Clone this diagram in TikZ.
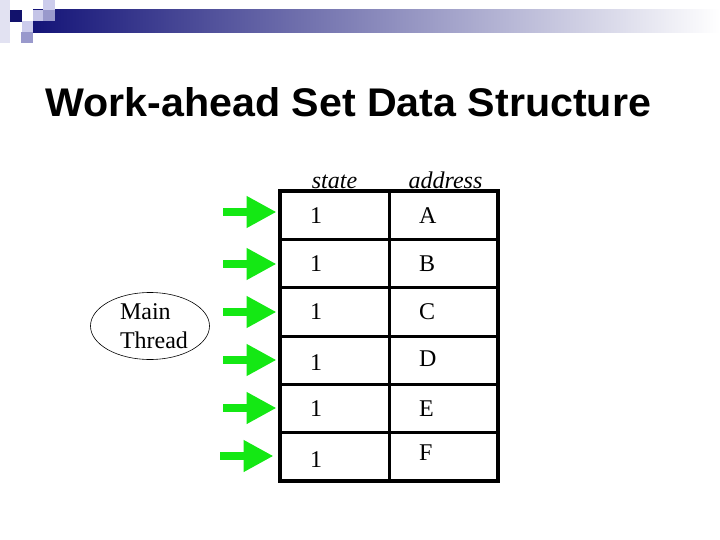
\documentclass[tikz,border=0pt]{standalone}
\usepackage{fontspec}
\setmainfont{Liberation Serif}
\newfontfamily\titlefont{Liberation Sans}
\usepackage{tikz}
\usetikzlibrary{arrows.meta,positioning,shapes.geometric}
\definecolor{navybar}{RGB}{20,20,120}
\definecolor{lilac}{RGB}{204,204,236}
\definecolor{lilacmid}{RGB}{153,153,204}
\definecolor{lilacpale}{RGB}{226,226,242}
\definecolor{arrowgreen}{RGB}{20,232,20}

\begin{document}
\begin{tikzpicture}[x=1pt, y=-1pt,
  font=\fontsize{24}{29}\selectfont,
  cell/.style={draw, line width=3pt, minimum width=109pt, minimum height=48.33pt, inner sep=0pt, outer sep=0pt,
    text width=49pt, inner xsep=30pt, align=left, text height=16pt, text depth=0pt},
  hdr/.style={inner sep=0pt, font=\fontsize{24}{29}\selectfont\itshape},
  thread/.style={draw, ellipse, line width=0.6pt, minimum width=119pt, minimum height=67pt, inner sep=0pt, align=left},
  garr/.style={draw=arrowgreen, line width=8pt, -{Triangle[length=30pt, width=30pt]}, shorten >=3.5pt}]
  \useasboundingbox (0,0) rectangle (720,540);
  % slide header
  \fill[lilacpale] (0,0) rectangle (10,43);
  \shade[left color=navybar, right color=white] (33,10) rectangle (720,33);
  \fill[navybar!90!black] (10,10) rectangle (22,22);
  \fill[lilac] (22,21) rectangle (33,32);
  \fill[lilacmid] (21,32) rectangle (33,43);
  \fill[lilac!85!lilacmid] (33,10) rectangle (43,21);
  \fill[lilac] (43,0) rectangle (55,10);
  \fill[lilacmid] (43,10) rectangle (55,21);
  \node[anchor=base west, inner sep=0pt, font=\titlefont\fontsize{40}{48}\selectfont\bfseries] (title) at (45,117) {\scalebox{1.03}[1]{Work-ahead Set Data Structure}};
  % table
  \node[cell] (s1) at (334.5,215.2) {1};
  \node[cell, below=0pt of s1] (s2) {1};
  \node[cell, below=0pt of s2] (s3) {1};
  \node[cell, below=0pt of s3] (s4) {\raisebox{-2pt}{1}};
  \node[cell, below=0pt of s4] (s5) {1};
  \node[cell, below=0pt of s5] (s6) {\raisebox{-3pt}{1}};
  \node[cell, right=0pt of s1] (a1) {A};
  \node[cell, right=0pt of s2] (a2) {B};
  \node[cell, right=0pt of s3] (a3) {C};
  \node[cell, right=0pt of s4] (a4) {\raisebox{2pt}{D}};
  \node[cell, right=0pt of s5] (a5) {E};
  \node[cell, right=0pt of s6] (a6) {\raisebox{4pt}{F}};
  \draw[line width=4pt] (s1.north west) rectangle (a6.south east);
  \node[hdr, anchor=base] (hstate) at ([yshift=3pt]s1.north) {state};
  \node[hdr, anchor=base] (haddr) at ([yshift=3pt,xshift=2pt]a1.north) {address};
  % main thread
  \node[thread] (main) at (150,326) {\hspace*{8pt}Main\\\hspace*{8pt}Thread};
  \coordinate (g1) at (223,212);
  \coordinate (g2) at (223,264);
  \coordinate (g3) at (223,312);
  \coordinate (g4) at (223,360);
  \coordinate (g5) at (223,408);
  \coordinate (g6) at (220,456);
  \draw[garr] (g1) -- (g1 -| s1.west);
  \draw[garr] (g2) -- (g2 -| s2.west);
  \draw[garr] (g3) -- (g3 -| s3.west);
  \draw[garr] (g4) -- (g4 -| s4.west);
  \draw[garr] (g5) -- (g5 -| s5.west);
  \draw[garr, shorten >=6.5pt] (g6) -- (g6 -| s6.west);
\end{tikzpicture}
\end{document}
